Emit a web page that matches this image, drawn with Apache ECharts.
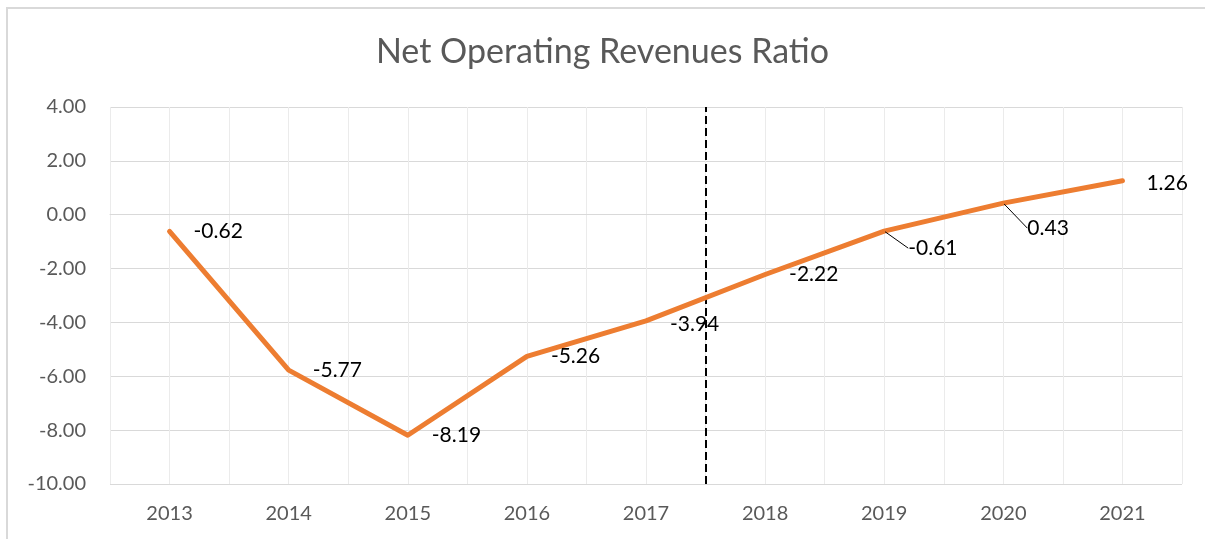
<!DOCTYPE html>
<html>
<head>
<meta charset="utf-8">
<script src="https://cdn.jsdelivr.net/npm/echarts@6/dist/echarts.min.js"></script>
<style>
  html, body { margin: 0; padding: 0; background: #fff; }
  #main { width: 1205px; height: 539px; }
</style>
</head>
<body>
<div id="main"></div>
<script>
// data
var years = ['2013', '2014', '2015', '2016', '2017', '2018', '2019', '2020', '2021'];
var ratio = [-0.62, -5.77, -8.19, -5.26, -3.94, -2.22, -0.61, 0.43, 1.26];
var yTicks = [-10, -8, -6, -4, -2, 0, 2, 4];
var splitYear = '2018'; // dashed separator sits just before this year

// label nudges (px) for the ones Excel pushed down with a leader line
var labelDy = [0, 0, 0, 0, 3, 0, 17, 25, 2];

var chartDom = document.getElementById('main');
var myChart = echarts.init(chartDom);
var font = 'Lato, "Open Sans", sans-serif';

var seriesData = ratio.map(function (v, i) {
    var item = { value: v };
    if (labelDy[i] > 10) item.labelLine = { show: true };
    return item;
});

var option = {
    backgroundColor: '#fff',
    animation: false,
    title: {
        text: 'Net Operating Revenues Ratio',
        left: 'center',
        top: 30,
        textStyle: { fontFamily: font, fontSize: 34, fontWeight: 'normal', color: '#595959' }
    },
    graphic: [{
        type: 'rect',
        shape: { x: 7, y: 8, width: 1220, height: 560 },
        style: { fill: 'none', stroke: '#d9d9d9', lineWidth: 2 },
        silent: true
    }],
    grid: { left: 110, right: 23, top: 107, bottom: 55 },
    xAxis: [{
        type: 'category',
        data: years,
        boundaryGap: true,
        axisLine: { show: true, lineStyle: { color: '#d9d9d9', width: 1 } },
        axisTick: { show: false },
        axisLabel: { margin: 20, fontFamily: font, fontSize: 20, color: '#595959' },
        splitLine: { show: false }
    }, {
        type: 'value',
        min: 0,
        max: years.length * 2,
        interval: 1,
        show: true,
        position: 'bottom',
        axisLine: { show: false },
        axisTick: { show: false },
        axisLabel: { show: false },
        splitLine: { show: true, lineStyle: { color: '#ebebeb', width: 1 } }
    }],
    yAxis: {
        type: 'value',
        min: yTicks[0],
        max: yTicks[yTicks.length - 1],
        interval: 2,
        axisLine: { show: false },
        axisTick: { show: false },
        axisLabel: {
            margin: 24,
            fontFamily: font,
            fontSize: 20,
            color: '#595959',
            formatter: function (v) { return v.toFixed(2); }
        },
        splitLine: { lineStyle: { color: '#d9d9d9', width: 1 } }
    },
    series: [{
        type: 'line',
        data: seriesData,
        xAxisIndex: 0,
        symbol: 'circle',
        symbolSize: 2,
        showSymbol: true,
        itemStyle: { color: '#ED7D31' },
        lineStyle: { color: '#ED7D31', width: 5, cap: 'round', join: 'round' },
        z: 5,
        label: {
            show: true,
            position: 'right',
            distance: 23,
            fontFamily: font,
            fontSize: 21,
            color: '#000',
            formatter: function (p) { return p.value.toFixed(2); }
        },
        labelLine: { show: false, lineStyle: { color: '#000', width: 1 } },
        labelLayout: function (p) {
            return { dy: labelDy[p.dataIndex] };
        }
    }, {
        type: 'line',
        xAxisIndex: 1,
        data: [],
        silent: true,
        markLine: {
            silent: true,
            symbol: 'none',
            label: { show: false },
            lineStyle: { color: '#000', type: [8, 4], width: 2 },
            data: [{ xAxis: 2 * years.indexOf(splitYear) }]
        }
    }]
};

option && myChart.setOption(option);
</script>
</body>
</html>
